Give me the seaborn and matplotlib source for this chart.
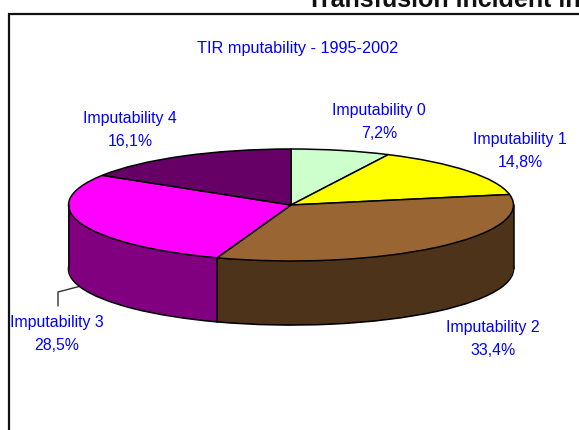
"""Flat-shaded 3D style pie of TIR imputability, 1995-2002."""
import numpy as np
import matplotlib
matplotlib.use("Agg")
import matplotlib.pyplot as plt
import seaborn as sns

# ─── data ─────────────────────────────────────────────────────────────────────
labels = ["Imputability 0", "Imputability 1", "Imputability 2", "Imputability 3", "Imputability 4"]
shares = [7.2, 14.8, 33.4, 28.5, 16.1]
share_labels = ["7,2%", "14,8%", "33,4%", "28,5%", "16,1%"]
top_colors = ["#CCFFCC", "#FFFF00", "#996633", "#FF00FF", "#660066"]
wall_colors = ["#8FB38F", "#B3B300", "#4D331A", "#800080", "#4D004D"]
chart_title = "TIR mputability - 1995-2002"
page_title = "Transfusion incident in"

W, H = 579, 430
DEPTH = 64 / 56          # wall height in units of the squashed radius
BLUE = "#0000FF"

sns.set_theme(style="white")
plt.rcParams["font.family"] = ["Liberation Sans", "DejaVu Sans"]

fig = plt.figure(figsize=(W / 100, H / 100), dpi=100, facecolor="white")

# ─── page layer in pixel coords ───────────────────────────────────────────────
page = fig.add_axes([0, 0, 1, 1])
page.set_xlim(0, W)
page.set_ylim(H, 0)
page.axis("off")
page.plot([8.5, 8.5, W], [H, 14, 14], color="#111111", lw=1.6, solid_joinstyle="miter")
page.text(307, 7, page_title, fontsize=18, fontweight="bold",
          color="#111111", ha="left", va="baseline", clip_on=True)
page.text(298, 48, chart_title, fontsize=11.7, color=BLUE, ha="center", va="center")

# ─── pie, squashed by the axes shape ──────────────────────────────────────────
ax = fig.add_axes([68.5 / W, 1 - 261 / H, 445 / W, 112 / H])
ax.patch.set_alpha(0)

# bottom outline first, then the wall layers, then the top face
ax.pie(shares, colors=wall_colors, startangle=90, counterclock=False, center=(0, -DEPTH),
       radius=1, wedgeprops={"edgecolor": "black", "linewidth": 1.2, "clip_on": False})
for off in np.linspace(DEPTH, 0, 65)[1:-1]:
    ax.pie(shares, colors=wall_colors, startangle=90, counterclock=False, center=(0, -off),
           radius=1, wedgeprops={"linewidth": 0, "clip_on": False})
ax.pie(shares, colors=top_colors, startangle=90, counterclock=False, radius=1,
       wedgeprops={"edgecolor": "black", "linewidth": 1.1, "clip_on": False})

ax.set_aspect("auto")
ax.set_xlim(-1, 1)
ax.set_ylim(-1, 1)
ax.axis("off")

# wall edges: outer silhouette and the slice border that faces the viewer
ax.plot([-1, -1], [0, -DEPTH], color="black", lw=1.1, clip_on=False)
ax.plot([1, 1], [0, -DEPTH], color="black", lw=1.1, clip_on=False)
theta = np.radians(np.cumsum(shares) / sum(shares) * 360)
front = theta[2]
ax.plot([np.sin(front)] * 2, [np.cos(front), np.cos(front) - DEPTH], color="black", lw=1.1, clip_on=False)

# ─── labels ───────────────────────────────────────────────────────────────────
label_x = [379, 520, 493, 57, 130]
label_y = [122, 151, 339, 334, 130]
for name, share, x, y in zip(labels, share_labels, label_x, label_y):
    page.text(x, y, f"{name}\n{share}", fontsize=11.4, color=BLUE, ha="center", va="center",
              linespacing=1.7, zorder=5)
page.plot([81, 58, 58], [286, 292, 306], color="#333333", lw=1)

fig.savefig("out.png", dpi=100)
plt.close(fig)
